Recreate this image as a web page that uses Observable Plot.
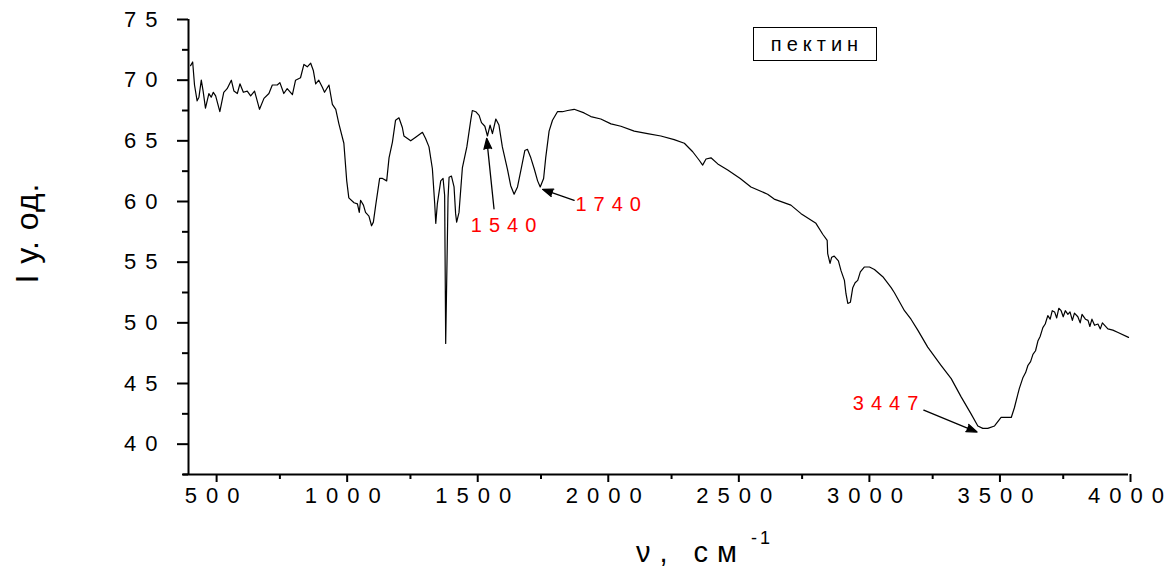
<!DOCTYPE html>
<html>
<head>
<meta charset="utf-8">
<script src="https://cdn.jsdelivr.net/npm/d3@7"></script>
<script src="https://cdn.jsdelivr.net/npm/@observablehq/plot@0.6"></script>
<style>
  html, body { margin: 0; padding: 0; background: #fff; }
  #wrap { position: relative; width: 1172px; height: 571px; font-family: "Liberation Sans", Arial, sans-serif; }
  #wrap svg { position: absolute; left: 0; top: 0; }
  svg [aria-label="y-axis tick label"] text,
  svg [aria-label="x-axis tick label"] text { letter-spacing: 9px; }
  svg [aria-label="text"] text { letter-spacing: 7px; }
  .xlab { position: absolute; left: 636px; top: 538px; font-size: 29px; line-height: 29px; letter-spacing: 9px; white-space: nowrap; }
  .xsup { position: absolute; left: 751px; top: 529px; font-size: 18px; line-height: 18px; letter-spacing: 3px; white-space: nowrap; }
  .ylab { position: absolute; left: 27px; top: 233px; font-size: 32px; line-height: 36px; letter-spacing: 1px; white-space: nowrap;
          transform: translate(-50%, -50%) rotate(-90deg); }
  .legend { position: absolute; left: 753px; top: 27px; width: 118px; height: 32px; border: 1px solid #000;
            font-size: 20px; line-height: 32px; letter-spacing: 5px; text-align: center; padding-left: 4px; box-sizing: content-box; }
</style>
</head>
<body>
<div id="wrap"></div>
<script>
// Spectrum (wavenumber, cm^-1 ; intensity, arb. units)
const wavenumber = [408,416,423,433,440,449,456,465,478,487,495,504,520,535,548,564,574,587,597,610,625,638,653,672,689,708,721,740,750,765,778,798,810,829,842,855,868,878,887,899,913,921,938,951,964,976,995,1006,1014,1034,1047,1054,1059,1070,1078,1091,1101,1108,1117,1132,1143,1159,1168,1181,1193,1206,1219,1225,1251,1270,1296,1308,1321,1334,1343,1347,1353,1366,1375,1381,1385,1394,1398,1407,1417,1423,1427,1436,1449,1466,1481,1487,1500,1513,1522,1535,1545,1555,1564,1577,1589,1602,1622,1634,1647,1660,1675,1688,1698,1711,1724,1737,1747,1760,1768,1781,1794,1813,1832,1852,1877,1915,1941,1979,2018,2056,2107,2158,2209,2260,2299,2331,2356,2369,2382,2401,2427,2465,2513,2554,2618,2643,2707,2746,2803,2829,2846,2848,2857,2863,2873,2889,2899,2912,2918,2925,2935,2944,2953,2963,2973,2988,3008,3027,3059,3091,3103,3142,3167,3193,3231,3282,3321,3359,3397,3423,3442,3461,3487,3512,3551,3563,3576,3582,3596,3606,3615,3625,3634,3644,3653,3662,3672,3681,3691,3700,3708,3717,3725,3733,3742,3750,3758,3768,3776,3785,3793,3806,3815,3822,3835,3845,3852,3860,3870,3883,3892,3900,3921,3940,3960,4000];
const intensity = [71.2,71.5,69.6,68.3,68.6,70.0,69.1,67.7,68.9,68.6,69.0,68.7,67.4,69.0,69.3,70.0,69.1,68.9,69.7,69.0,69.1,68.7,69.1,67.6,68.5,68.9,69.6,69.6,69.8,68.9,69.3,68.8,70.0,70.2,71.3,71.1,71.4,70.8,69.7,70.0,69.4,69.0,69.6,68.0,67.6,66.4,64.8,61.7,60.3,59.9,59.8,59.1,60.1,59.7,59.1,58.8,58.0,58.3,59.7,61.9,61.9,61.7,63.6,64.9,66.7,66.9,66.1,65.4,65.0,65.3,65.7,65.2,64.5,62.7,59.8,58.2,59.8,61.7,61.9,60.5,48.3,60.3,62.0,62.1,61.2,59.0,58.3,59.1,62.8,64.5,66.7,67.5,67.4,67.1,66.5,66.2,65.4,66.3,65.6,66.8,66.3,64.5,62.6,61.3,60.6,61.2,62.8,64.2,64.3,63.6,62.7,61.7,61.2,61.9,63.6,65.8,66.7,67.4,67.4,67.5,67.6,67.3,67.0,66.8,66.4,66.2,65.8,65.6,65.4,65.1,64.8,64.1,63.4,63.0,63.5,63.6,63.1,62.6,61.9,61.2,60.6,60.2,59.7,59.0,58.2,57.3,56.8,55.7,54.9,55.4,55.5,55.1,54.3,53.5,52.4,51.6,51.7,52.9,53.3,53.5,54.2,54.6,54.6,54.4,53.8,52.9,52.5,51.0,50.3,49.4,48.0,46.5,45.4,43.9,42.5,41.5,41.3,41.3,41.5,42.2,42.2,43.0,44.1,44.6,45.5,45.9,46.5,46.8,47.4,47.7,48.5,48.9,49.6,49.9,50.6,50.3,51.0,50.9,50.4,51.2,51.0,50.5,51.0,50.7,50.9,50.2,50.8,50.5,50.0,50.7,50.3,50.2,49.7,50.3,49.8,49.9,49.5,50.0,49.5,49.4,49.2,48.8];

// Axis ticks
const xTicks = [500, 1000, 1500, 2000, 2500, 3000, 3500, 4000];
const xMinor = [750, 1250, 1750, 2250, 2750, 3250, 3750];
const yTicks = [40, 45, 50, 55, 60, 65, 70, 75];
const yMinor = [37.5, 42.5, 47.5, 52.5, 57.5, 62.5, 67.5, 72.5];

// Peak annotations
const peakLabel = ["1540", "1740", "3447"];
const labelX = [1481, 1882, 2944];
const labelY = [57.5, 59.2, 42.8];
const arrowX1 = [1570, 1877, 3216];
const arrowY1 = [59.4, 60.1, 42.8];
const arrowX2 = [1542, 1756, 3420];
const arrowY2 = [65.2, 61.0, 41.0];

const spectrum = wavenumber.map((x, i) => ({x, y: intensity[i]}));
const notes = peakLabel.map((t, i) => ({t, x: labelX[i], y: labelY[i]}));
const arrows = peakLabel.map((t, i) => ({x1: arrowX1[i], y1: arrowY1[i], x2: arrowX2[i], y2: arrowY2[i]}));

const chart = Plot.plot({
  width: 1172,
  height: 571,
  marginLeft: 188,
  marginRight: 44,
  marginTop: 19,
  marginBottom: 97,
  style: {fontFamily: "Liberation Sans, Arial, sans-serif", background: "transparent", color: "#000"},
  x: {domain: [400, 4000]},
  y: {domain: [37.5, 75]},
  marks: [
    Plot.axisY(yTicks, {anchor: "left", tickSize: 11, tickPadding: 11, fontSize: 22, strokeWidth: 2, label: null, tickFormat: d => String(d)}),
    Plot.axisY(yMinor, {anchor: "left", tickSize: 6, strokeWidth: 2, tickFormat: () => "", label: null}),
    Plot.axisX(xTicks, {anchor: "bottom", tickSize: 8, tickPadding: 5, fontSize: 22, strokeWidth: 2, label: null, dx: 2, tickFormat: d => String(d)}),
    Plot.axisX(xMinor, {anchor: "bottom", tickSize: 5, strokeWidth: 2, tickFormat: () => "", label: null}),
    Plot.ruleX([400], {strokeWidth: 2}),
    Plot.ruleY([37.5], {strokeWidth: 2, insetLeft: -5}),
    Plot.line(spectrum, {x: "x", y: "y", stroke: "#000", strokeWidth: 1.2}),
    Plot.arrow(arrows, {x1: "x1", y1: "y1", x2: "x2", y2: "y2", stroke: "#000", fill: "#000", strokeWidth: 1.3, headLength: 13, headAngle: 40}),
    Plot.text(notes, {x: "x", y: "y", text: "t", fill: "#ff0000", fontSize: 20, textAnchor: "start", lineAnchor: "bottom"})
  ]
});

const wrap = document.getElementById("wrap");
wrap.appendChild(chart);
wrap.insertAdjacentHTML("beforeend",
  '<div class="ylab">I у. од.</div>' +
  '<div class="xlab">ν, см</div>' +
  '<div class="xsup">-1</div>' +
  '<div class="legend">пектин</div>');
</script>
</body>
</html>
